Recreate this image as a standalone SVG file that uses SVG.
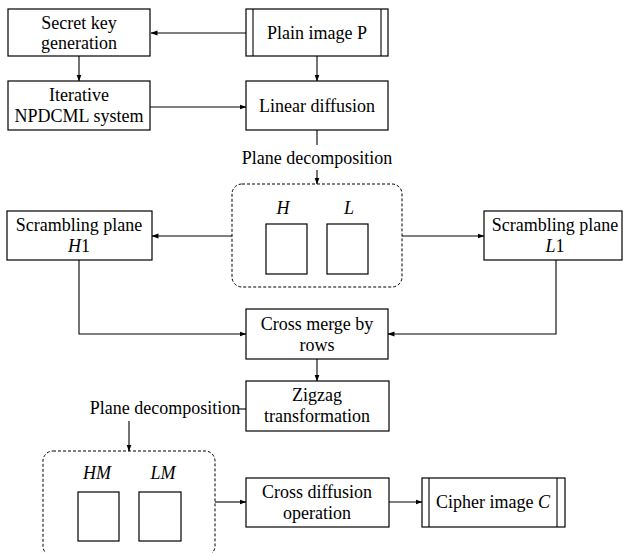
<svg xmlns="http://www.w3.org/2000/svg" width="623" height="553" viewBox="0 0 623 553" font-family="'Liberation Serif', 'DejaVu Serif', serif">
<defs>
<marker id="ah" markerWidth="7" markerHeight="6" refX="6.5" refY="3" orient="auto" markerUnits="userSpaceOnUse">
<path d="M0,0.5 L7,3 L0,5.5 Z" fill="#000"/>
</marker>
<style>
.box{fill:#fff;stroke:#000;stroke-width:1.2}
.dash{fill:none;stroke:#000;stroke-width:1;stroke-dasharray:3,2}
.ln{fill:none;stroke:#000;stroke-width:1.1}
.arr{fill:none;stroke:#000;stroke-width:1.1;marker-end:url(#ah)}
text{font-family:'Liberation Serif','DejaVu Serif',serif;font-size:18px;fill:#000;text-anchor:middle}
.it{font-style:italic}
</style>
</defs>
<rect width="623" height="553" fill="#fff"/>
<g id="connectors">
<path class="arr" d="M246,33 H151"/>
<path class="arr" d="M79,56 V81"/>
<path class="arr" d="M317,56 V81"/>
<path class="arr" d="M150,107 H246"/>
<path class="ln" d="M317,130 V145"/>
<path class="arr" d="M317,170 V184"/>
<path class="arr" d="M232,236 H152"/>
<path class="arr" d="M402,236 H484"/>
<path class="arr" d="M79,260 V334 H246"/>
<path class="arr" d="M556,260 V334 H388"/>
<path class="arr" d="M317,359 V381"/>
<path class="ln" d="M239,409 H246"/>
<path class="arr" d="M129,421 V451"/>
<path class="arr" d="M215,502 H246"/>
<path class="arr" d="M389,502 H422"/>
</g>
<g id="secret-key">
<rect class="box" x="8" y="9" width="142" height="47"/>
<text x="79" y="29">Secret key</text>
<text x="79" y="49">generation</text>
</g>
<g id="plain-image">
<rect class="box" x="246" y="9" width="142" height="47"/>
<path class="ln" d="M253,9 V56 M381,9 V56"/>
<text x="317" y="39">Plain image P</text>
</g>
<g id="iterative">
<rect class="box" x="8" y="81" width="142" height="49"/>
<text x="79" y="101">Iterative</text>
<text x="79" y="122">NPDCML system</text>
</g>
<g id="linear-diffusion">
<rect class="box" x="246" y="81" width="142" height="49"/>
<text x="317" y="112">Linear diffusion</text>
</g>
<g id="plane-decomp-1">
<text x="317" y="164">Plane decomposition</text>
</g>
<g id="planes-HL">
<rect class="dash" x="232" y="184" width="170" height="103" rx="10"/>
<text class="it" x="283" y="214">H</text>
<text class="it" x="349" y="214">L</text>
<rect class="box" x="266" y="224" width="41" height="50"/>
<rect class="box" x="327" y="224" width="41" height="50"/>
</g>
<g id="scrambling-H1">
<rect class="box" x="7" y="211" width="145" height="49"/>
<text x="79" y="231">Scrambling plane</text>
<text x="79" y="252"><tspan class="it">H</tspan>1</text>
</g>
<g id="scrambling-L1">
<rect class="box" x="484" y="211" width="138" height="49"/>
<text x="555" y="231">Scrambling plane</text>
<text x="555" y="252"><tspan class="it">L</tspan>1</text>
</g>
<g id="cross-merge">
<rect class="box" x="246" y="309" width="142" height="50"/>
<text x="317" y="330">Cross merge by</text>
<text x="317" y="351">rows</text>
</g>
<g id="zigzag">
<rect class="box" x="246" y="381" width="143" height="50"/>
<text x="317" y="401">Zigzag</text>
<text x="317" y="422">transformation</text>
</g>
<g id="plane-decomp-2">
<text x="165" y="414">Plane decomposition</text>
</g>
<g id="planes-HMLM">
<rect class="dash" x="43" y="451" width="172" height="105" rx="10"/>
<text class="it" x="97" y="479">HM</text>
<text class="it" x="163" y="479">LM</text>
<rect class="box" x="78" y="492" width="41" height="49"/>
<rect class="box" x="139" y="492" width="42" height="49"/>
</g>
<g id="cross-diffusion">
<rect class="box" x="246" y="478" width="143" height="49"/>
<text x="317" y="498">Cross diffusion</text>
<text x="317" y="519">operation</text>
</g>
<g id="cipher-image">
<rect class="box" x="422" y="478" width="143" height="49"/>
<path class="ln" d="M429,478 V527 M557,478 V527"/>
<text x="493" y="508">Cipher image <tspan class="it">C</tspan></text>
</g>
</svg>
